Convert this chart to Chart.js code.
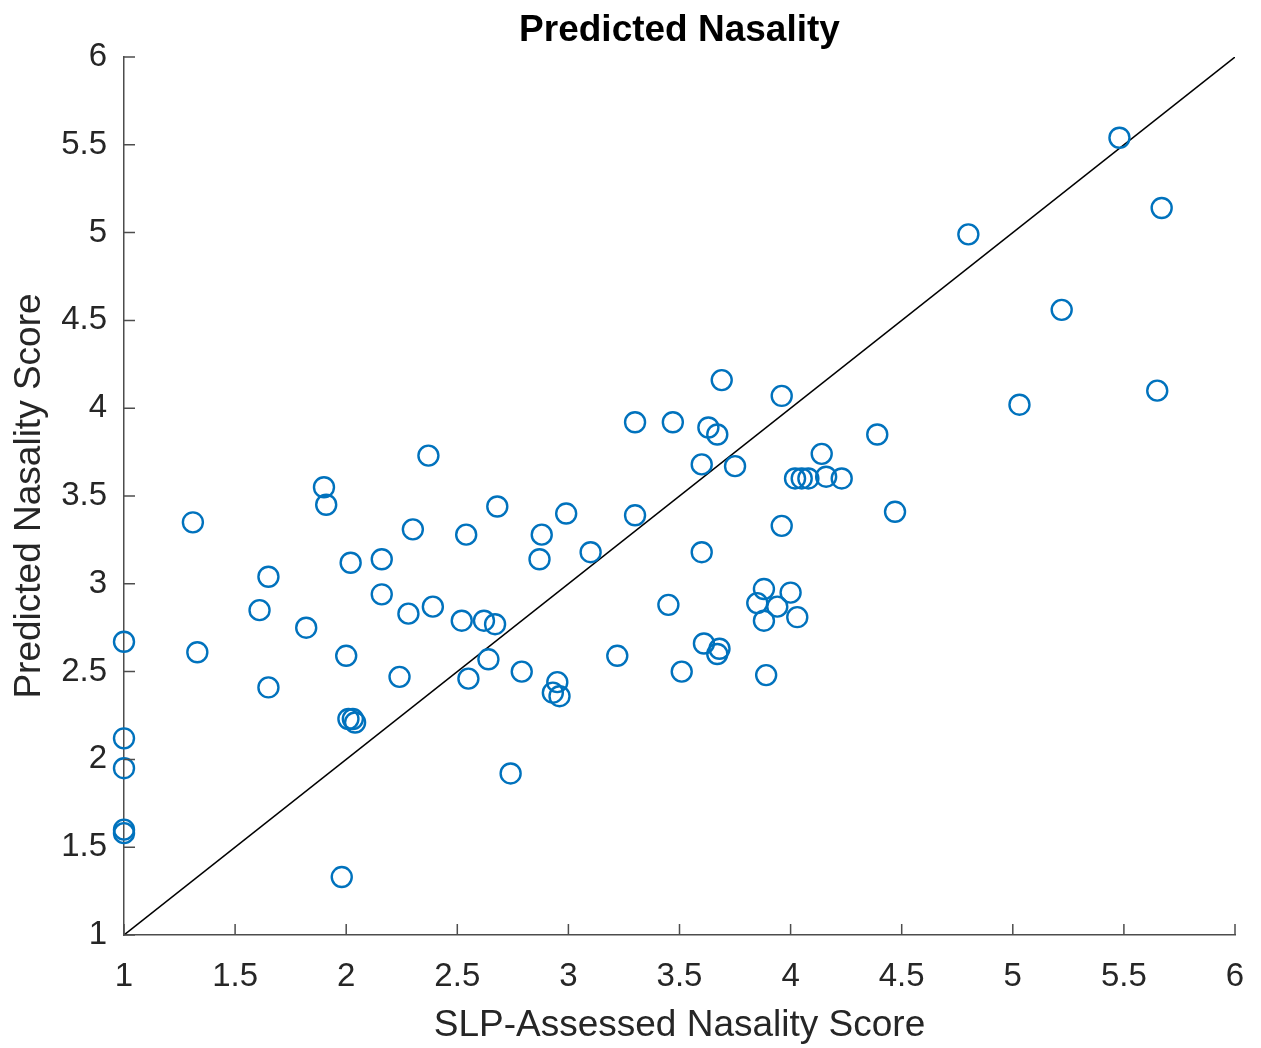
<!DOCTYPE html>
<html>
<head>
<meta charset="utf-8">
<script src="https://cdn.jsdelivr.net/npm/chart.js@4.4.0/dist/chart.umd.min.js"></script>
<style>
  html, body { margin: 0; padding: 0; background: #ffffff; }
  #wrap { width: 1261px; height: 1048px; }
</style>
</head>
<body>
<div id="wrap"><canvas id="c" width="1261" height="1048"></canvas></div>
<script>
// ---- Data ----
const slpScores = [
  1.00, 1.00, 1.00, 1.00, 1.00, 1.31, 1.33, 1.61, 1.65, 1.65,
  1.82, 1.90, 1.91, 2.02, 2.00, 2.01, 2.03, 2.04, 1.98, 2.16,
  2.16, 2.24, 2.28, 2.30, 2.37, 2.39, 2.52, 2.54, 2.55, 2.62,
  2.67, 2.64, 2.68, 2.74, 2.79, 2.87, 2.88, 2.95, 2.93, 2.96,
  2.99, 3.10, 3.22, 3.30, 3.30, 3.45, 3.47, 3.51, 3.63, 3.67,
  3.60, 3.75, 3.69, 3.60, 3.61, 3.68, 3.67, 3.96, 3.96, 3.85,
  3.88, 3.94, 4.00, 3.88, 4.03, 3.89, 4.02, 4.05, 4.08, 4.14,
  4.16, 4.23, 4.39, 4.47, 4.80, 5.03, 5.22, 5.48, 5.67, 5.65
];
const predictedScores = [
  2.67, 2.12, 1.95, 1.60, 1.58, 3.35, 2.61, 2.85, 3.04, 2.41,
  2.75, 3.55, 3.45, 3.12, 2.59, 2.23, 2.23, 2.21, 1.33, 3.14,
  2.94, 2.47, 2.83, 3.31, 3.73, 2.87, 2.79, 3.28, 2.46, 2.79,
  2.77, 2.57, 3.44, 1.92, 2.50, 3.14, 3.28, 2.44, 2.38, 2.36,
  3.40, 3.18, 2.59, 3.92, 3.39, 2.88, 3.92, 2.50, 3.89, 3.85,
  3.68, 3.67, 4.16, 3.18, 2.66, 2.63, 2.60, 4.07, 3.33, 2.89,
  2.97, 2.87, 2.95, 2.79, 2.81, 2.48, 3.60, 3.60, 3.60, 3.74,
  3.61, 3.60, 3.85, 3.41, 4.99, 4.02, 4.56, 5.54, 5.14, 4.10
];
const identityX = [1, 6];
const identityY = [1, 6];
const xTickValues = [1, 1.5, 2, 2.5, 3, 3.5, 4, 4.5, 5, 5.5, 6];
const yTickValues = [1, 1.5, 2, 2.5, 3, 3.5, 4, 4.5, 5, 5.5, 6];
const xTickLabels = ['1', '1.5', '2', '2.5', '3', '3.5', '4', '4.5', '5', '5.5', '6'];
const yTickLabels = ['1', '1.5', '2', '2.5', '3', '3.5', '4', '4.5', '5', '5.5', '6'];
const chartTitle = 'Predicted Nasality';
const xAxisTitle = 'SLP-Assessed Nasality Score';
const yAxisTitle = 'Predicted Nasality Score';

// ---- Styles ----
const FONT = "'Liberation Sans', Arial, Helvetica, sans-serif";
const TEXT_COLOR = '#262626';
const AXIS_COLOR = '#4d4d4d';
const POINT_COLOR = '#0072BD';

const scatterData = slpScores.map((x, i) => ({ x: x, y: predictedScores[i] }));
const lineData = identityX.map((x, i) => ({ x: x, y: identityY[i] }));

const inwardTicks = {
  id: 'inwardTicks',
  afterDraw(chart) {
    const { ctx, chartArea, scales } = chart;
    const len = 11;
    ctx.save();
    ctx.strokeStyle = AXIS_COLOR;
    ctx.lineWidth = 1.5;
    ctx.beginPath();
    xTickValues.forEach(v => {
      const px = scales.x.getPixelForValue(v);
      ctx.moveTo(px, chartArea.bottom);
      ctx.lineTo(px, chartArea.bottom - len);
    });
    yTickValues.forEach(v => {
      const py = scales.y.getPixelForValue(v);
      ctx.moveTo(chartArea.left, py);
      ctx.lineTo(chartArea.left + len, py);
    });
    ctx.stroke();
    ctx.restore();
  }
};

new Chart(document.getElementById('c'), {
  data: {
    datasets: [
      {
        type: 'scatter',
        data: scatterData,
        pointStyle: 'circle',
        pointRadius: 10,
        pointHoverRadius: 10,
        pointBorderWidth: 2.4,
        pointBorderColor: POINT_COLOR,
        pointBackgroundColor: 'rgba(0,0,0,0)',
        clip: false,
        order: 1
      },
      {
        type: 'line',
        data: lineData,
        borderColor: '#000000',
        borderWidth: 1.5,
        pointRadius: 0,
        fill: false,
        order: 2
      }
    ]
  },
  options: {
    responsive: false,
    animation: false,
    events: [],
    layout: { padding: { left: 0, right: 26, top: 0, bottom: 0 } },
    plugins: {
      legend: { display: false },
      tooltip: { enabled: false },
      title: {
        display: true,
        text: chartTitle,
        fullSize: false,
        color: '#000000',
        font: { family: FONT, size: 37, weight: 'bold' },
        padding: { top: 9, bottom: 3.6 }
      }
    },
    scales: {
      x: {
        type: 'linear',
        min: 1, max: 6,
        afterFit(scale) { scale.height = 113; scale.paddingRight = 0; },
        afterBuildTicks(scale) { scale.ticks = xTickValues.map(v => ({ value: v })); },
        grid: { display: false, drawTicks: false },
        border: { display: true, color: AXIS_COLOR, width: 1.5 },
        ticks: {
          color: TEXT_COLOR,
          font: { family: FONT, size: 33 },
          padding: 22,
          maxRotation: 0,
          autoSkip: false,
          callback: (value, index) => xTickLabels[index]
        },
        title: {
          display: true,
          text: xAxisTitle,
          color: TEXT_COLOR,
          font: { family: FONT, size: 37 },
          padding: { top: 0, bottom: 0 }
        }
      },
      y: {
        type: 'linear',
        min: 1, max: 6,
        afterFit(scale) { scale.width = 124; },
        afterBuildTicks(scale) { scale.ticks = yTickValues.map(v => ({ value: v })); },
        grid: { display: false, drawTicks: false },
        border: { display: true, color: AXIS_COLOR, width: 1.5 },
        ticks: {
          color: TEXT_COLOR,
          font: { family: FONT, size: 33 },
          padding: 17,
          autoSkip: false,
          callback: (value, index) => yTickLabels[index]
        },
        title: {
          display: true,
          text: yAxisTitle,
          color: TEXT_COLOR,
          font: { family: FONT, size: 37 },
          padding: { top: 8, bottom: 0 }
        }
      }
    }
  },
  plugins: [inwardTicks]
});
</script>
</body>
</html>
